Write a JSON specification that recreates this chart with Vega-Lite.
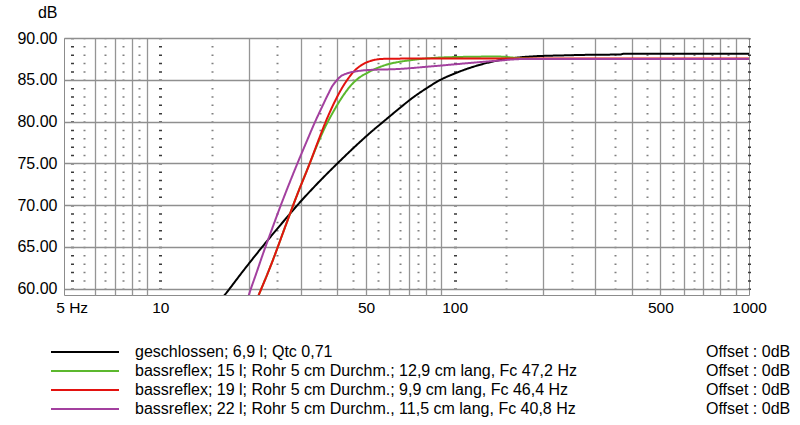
{
  "$schema": "https://vega.github.io/schema/vega-lite/v6.json",
  "autosize": "none",
  "padding": {"left": 64, "top": 38, "right": 51, "bottom": 130},
  "width": 685,
  "height": 257,
  "background": "white",
  "config": {
    "view": {"stroke": "#8c8c8c", "strokeWidth": 1},
    "font": "Liberation Sans",
    "axis": {"labelFont": "Liberation Sans", "titleFont": "Liberation Sans", "labelColor": "#000000", "titleColor": "#000000"},
    "legend": {"labelFont": "Liberation Sans", "labelColor": "#000000"}
  },
  "data": {
    "values": [
      {"s": "geschlossen; 6,9 l; Qtc 0,71", "f": 15, "db": 57.4},
      {"s": "geschlossen; 6,9 l; Qtc 0,71", "f": 16.6, "db": 59.3},
      {"s": "geschlossen; 6,9 l; Qtc 0,71", "f": 19, "db": 62.0},
      {"s": "geschlossen; 6,9 l; Qtc 0,71", "f": 22.2, "db": 65.0},
      {"s": "geschlossen; 6,9 l; Qtc 0,71", "f": 26.5, "db": 68.25},
      {"s": "geschlossen; 6,9 l; Qtc 0,71", "f": 29.4, "db": 70.1},
      {"s": "geschlossen; 6,9 l; Qtc 0,71", "f": 34, "db": 72.5},
      {"s": "geschlossen; 6,9 l; Qtc 0,71", "f": 40, "db": 75.0},
      {"s": "geschlossen; 6,9 l; Qtc 0,71", "f": 46, "db": 77.05},
      {"s": "geschlossen; 6,9 l; Qtc 0,71", "f": 52, "db": 78.75},
      {"s": "geschlossen; 6,9 l; Qtc 0,71", "f": 58, "db": 80.15},
      {"s": "geschlossen; 6,9 l; Qtc 0,71", "f": 65, "db": 81.6},
      {"s": "geschlossen; 6,9 l; Qtc 0,71", "f": 72, "db": 82.85},
      {"s": "geschlossen; 6,9 l; Qtc 0,71", "f": 80, "db": 83.95},
      {"s": "geschlossen; 6,9 l; Qtc 0,71", "f": 89, "db": 84.95},
      {"s": "geschlossen; 6,9 l; Qtc 0,71", "f": 100, "db": 85.75},
      {"s": "geschlossen; 6,9 l; Qtc 0,71", "f": 110, "db": 86.3},
      {"s": "geschlossen; 6,9 l; Qtc 0,71", "f": 125, "db": 86.9},
      {"s": "geschlossen; 6,9 l; Qtc 0,71", "f": 142, "db": 87.35},
      {"s": "geschlossen; 6,9 l; Qtc 0,71", "f": 160, "db": 87.62},
      {"s": "geschlossen; 6,9 l; Qtc 0,71", "f": 180, "db": 87.78},
      {"s": "geschlossen; 6,9 l; Qtc 0,71", "f": 240, "db": 87.93},
      {"s": "geschlossen; 6,9 l; Qtc 0,71", "f": 300, "db": 88.0},
      {"s": "geschlossen; 6,9 l; Qtc 0,71", "f": 365, "db": 88.02},
      {"s": "geschlossen; 6,9 l; Qtc 0,71", "f": 375, "db": 88.12},
      {"s": "geschlossen; 6,9 l; Qtc 0,71", "f": 1000, "db": 88.12},

      {"s": "bassreflex; 15 l; Rohr 5 cm Durchm.; 12,9 cm lang,  Fc 47,2 Hz", "f": 20, "db": 56.5},
      {"s": "bassreflex; 15 l; Rohr 5 cm Durchm.; 12,9 cm lang,  Fc 47,2 Hz", "f": 21.6, "db": 59.25},
      {"s": "bassreflex; 15 l; Rohr 5 cm Durchm.; 12,9 cm lang,  Fc 47,2 Hz", "f": 24, "db": 63.2},
      {"s": "bassreflex; 15 l; Rohr 5 cm Durchm.; 12,9 cm lang,  Fc 47,2 Hz", "f": 26.5, "db": 67.3},
      {"s": "bassreflex; 15 l; Rohr 5 cm Durchm.; 12,9 cm lang,  Fc 47,2 Hz", "f": 29, "db": 71.0},
      {"s": "bassreflex; 15 l; Rohr 5 cm Durchm.; 12,9 cm lang,  Fc 47,2 Hz", "f": 32.2, "db": 75.0},
      {"s": "bassreflex; 15 l; Rohr 5 cm Durchm.; 12,9 cm lang,  Fc 47,2 Hz", "f": 34.5, "db": 77.6},
      {"s": "bassreflex; 15 l; Rohr 5 cm Durchm.; 12,9 cm lang,  Fc 47,2 Hz", "f": 36.5, "db": 79.5},
      {"s": "bassreflex; 15 l; Rohr 5 cm Durchm.; 12,9 cm lang,  Fc 47,2 Hz", "f": 38.6, "db": 81.1},
      {"s": "bassreflex; 15 l; Rohr 5 cm Durchm.; 12,9 cm lang,  Fc 47,2 Hz", "f": 41, "db": 82.65},
      {"s": "bassreflex; 15 l; Rohr 5 cm Durchm.; 12,9 cm lang,  Fc 47,2 Hz", "f": 44, "db": 84.15},
      {"s": "bassreflex; 15 l; Rohr 5 cm Durchm.; 12,9 cm lang,  Fc 47,2 Hz", "f": 47, "db": 85.15},
      {"s": "bassreflex; 15 l; Rohr 5 cm Durchm.; 12,9 cm lang,  Fc 47,2 Hz", "f": 50, "db": 85.75},
      {"s": "bassreflex; 15 l; Rohr 5 cm Durchm.; 12,9 cm lang,  Fc 47,2 Hz", "f": 55, "db": 86.45},
      {"s": "bassreflex; 15 l; Rohr 5 cm Durchm.; 12,9 cm lang,  Fc 47,2 Hz", "f": 60, "db": 86.9},
      {"s": "bassreflex; 15 l; Rohr 5 cm Durchm.; 12,9 cm lang,  Fc 47,2 Hz", "f": 65, "db": 87.15},
      {"s": "bassreflex; 15 l; Rohr 5 cm Durchm.; 12,9 cm lang,  Fc 47,2 Hz", "f": 75, "db": 87.45},
      {"s": "bassreflex; 15 l; Rohr 5 cm Durchm.; 12,9 cm lang,  Fc 47,2 Hz", "f": 85, "db": 87.62},
      {"s": "bassreflex; 15 l; Rohr 5 cm Durchm.; 12,9 cm lang,  Fc 47,2 Hz", "f": 100, "db": 87.72},
      {"s": "bassreflex; 15 l; Rohr 5 cm Durchm.; 12,9 cm lang,  Fc 47,2 Hz", "f": 140, "db": 87.78},
      {"s": "bassreflex; 15 l; Rohr 5 cm Durchm.; 12,9 cm lang,  Fc 47,2 Hz", "f": 165, "db": 87.6},
      {"s": "bassreflex; 15 l; Rohr 5 cm Durchm.; 12,9 cm lang,  Fc 47,2 Hz", "f": 200, "db": 87.5},
      {"s": "bassreflex; 15 l; Rohr 5 cm Durchm.; 12,9 cm lang,  Fc 47,2 Hz", "f": 1000, "db": 87.5},

      {"s": "bassreflex; 19 l; Rohr 5 cm Durchm.; 9,9 cm lang,  Fc 46,4 Hz", "f": 20, "db": 56.5},
      {"s": "bassreflex; 19 l; Rohr 5 cm Durchm.; 9,9 cm lang,  Fc 46,4 Hz", "f": 21.6, "db": 59.25},
      {"s": "bassreflex; 19 l; Rohr 5 cm Durchm.; 9,9 cm lang,  Fc 46,4 Hz", "f": 24, "db": 63.2},
      {"s": "bassreflex; 19 l; Rohr 5 cm Durchm.; 9,9 cm lang,  Fc 46,4 Hz", "f": 26.5, "db": 67.3},
      {"s": "bassreflex; 19 l; Rohr 5 cm Durchm.; 9,9 cm lang,  Fc 46,4 Hz", "f": 29, "db": 71.0},
      {"s": "bassreflex; 19 l; Rohr 5 cm Durchm.; 9,9 cm lang,  Fc 46,4 Hz", "f": 32.2, "db": 75.0},
      {"s": "bassreflex; 19 l; Rohr 5 cm Durchm.; 9,9 cm lang,  Fc 46,4 Hz", "f": 34.5, "db": 77.8},
      {"s": "bassreflex; 19 l; Rohr 5 cm Durchm.; 9,9 cm lang,  Fc 46,4 Hz", "f": 36.7, "db": 80.2},
      {"s": "bassreflex; 19 l; Rohr 5 cm Durchm.; 9,9 cm lang,  Fc 46,4 Hz", "f": 38.8, "db": 82.1},
      {"s": "bassreflex; 19 l; Rohr 5 cm Durchm.; 9,9 cm lang,  Fc 46,4 Hz", "f": 40.8, "db": 83.6},
      {"s": "bassreflex; 19 l; Rohr 5 cm Durchm.; 9,9 cm lang,  Fc 46,4 Hz", "f": 43, "db": 84.9},
      {"s": "bassreflex; 19 l; Rohr 5 cm Durchm.; 9,9 cm lang,  Fc 46,4 Hz", "f": 45.2, "db": 85.9},
      {"s": "bassreflex; 19 l; Rohr 5 cm Durchm.; 9,9 cm lang,  Fc 46,4 Hz", "f": 48, "db": 86.7},
      {"s": "bassreflex; 19 l; Rohr 5 cm Durchm.; 9,9 cm lang,  Fc 46,4 Hz", "f": 50, "db": 87.05},
      {"s": "bassreflex; 19 l; Rohr 5 cm Durchm.; 9,9 cm lang,  Fc 46,4 Hz", "f": 53, "db": 87.35},
      {"s": "bassreflex; 19 l; Rohr 5 cm Durchm.; 9,9 cm lang,  Fc 46,4 Hz", "f": 57, "db": 87.5},
      {"s": "bassreflex; 19 l; Rohr 5 cm Durchm.; 9,9 cm lang,  Fc 46,4 Hz", "f": 80, "db": 87.55},
      {"s": "bassreflex; 19 l; Rohr 5 cm Durchm.; 9,9 cm lang,  Fc 46,4 Hz", "f": 1000, "db": 87.55},

      {"s": "bassreflex; 22 l; Rohr 5 cm Durchm., 11,5 cm lang,  Fc 40,8 Hz", "f": 19, "db": 56.5},
      {"s": "bassreflex; 22 l; Rohr 5 cm Durchm., 11,5 cm lang,  Fc 40,8 Hz", "f": 20, "db": 59.25},
      {"s": "bassreflex; 22 l; Rohr 5 cm Durchm., 11,5 cm lang,  Fc 40,8 Hz", "f": 21.2, "db": 61.85},
      {"s": "bassreflex; 22 l; Rohr 5 cm Durchm., 11,5 cm lang,  Fc 40,8 Hz", "f": 22.4, "db": 64.3},
      {"s": "bassreflex; 22 l; Rohr 5 cm Durchm., 11,5 cm lang,  Fc 40,8 Hz", "f": 24, "db": 67.2},
      {"s": "bassreflex; 22 l; Rohr 5 cm Durchm., 11,5 cm lang,  Fc 40,8 Hz", "f": 25.4, "db": 69.55},
      {"s": "bassreflex; 22 l; Rohr 5 cm Durchm., 11,5 cm lang,  Fc 40,8 Hz", "f": 27.3, "db": 72.4},
      {"s": "bassreflex; 22 l; Rohr 5 cm Durchm., 11,5 cm lang,  Fc 40,8 Hz", "f": 29.4, "db": 75.2},
      {"s": "bassreflex; 22 l; Rohr 5 cm Durchm., 11,5 cm lang,  Fc 40,8 Hz", "f": 31.5, "db": 77.7},
      {"s": "bassreflex; 22 l; Rohr 5 cm Durchm., 11,5 cm lang,  Fc 40,8 Hz", "f": 33.6, "db": 80.0},
      {"s": "bassreflex; 22 l; Rohr 5 cm Durchm., 11,5 cm lang,  Fc 40,8 Hz", "f": 35.5, "db": 81.8},
      {"s": "bassreflex; 22 l; Rohr 5 cm Durchm., 11,5 cm lang,  Fc 40,8 Hz", "f": 37.2, "db": 83.3},
      {"s": "bassreflex; 22 l; Rohr 5 cm Durchm., 11,5 cm lang,  Fc 40,8 Hz", "f": 38.5, "db": 84.3},
      {"s": "bassreflex; 22 l; Rohr 5 cm Durchm., 11,5 cm lang,  Fc 40,8 Hz", "f": 39.7, "db": 84.9},
      {"s": "bassreflex; 22 l; Rohr 5 cm Durchm., 11,5 cm lang,  Fc 40,8 Hz", "f": 41, "db": 85.4},
      {"s": "bassreflex; 22 l; Rohr 5 cm Durchm., 11,5 cm lang,  Fc 40,8 Hz", "f": 43, "db": 85.75},
      {"s": "bassreflex; 22 l; Rohr 5 cm Durchm., 11,5 cm lang,  Fc 40,8 Hz", "f": 46, "db": 86.0},
      {"s": "bassreflex; 22 l; Rohr 5 cm Durchm., 11,5 cm lang,  Fc 40,8 Hz", "f": 50, "db": 86.15},
      {"s": "bassreflex; 22 l; Rohr 5 cm Durchm., 11,5 cm lang,  Fc 40,8 Hz", "f": 65, "db": 86.3},
      {"s": "bassreflex; 22 l; Rohr 5 cm Durchm., 11,5 cm lang,  Fc 40,8 Hz", "f": 80, "db": 86.55},
      {"s": "bassreflex; 22 l; Rohr 5 cm Durchm., 11,5 cm lang,  Fc 40,8 Hz", "f": 100, "db": 86.85},
      {"s": "bassreflex; 22 l; Rohr 5 cm Durchm., 11,5 cm lang,  Fc 40,8 Hz", "f": 125, "db": 87.15},
      {"s": "bassreflex; 22 l; Rohr 5 cm Durchm., 11,5 cm lang,  Fc 40,8 Hz", "f": 142, "db": 87.3},
      {"s": "bassreflex; 22 l; Rohr 5 cm Durchm., 11,5 cm lang,  Fc 40,8 Hz", "f": 160, "db": 87.45},
      {"s": "bassreflex; 22 l; Rohr 5 cm Durchm., 11,5 cm lang,  Fc 40,8 Hz", "f": 180, "db": 87.5},
      {"s": "bassreflex; 22 l; Rohr 5 cm Durchm., 11,5 cm lang,  Fc 40,8 Hz", "f": 1000, "db": 87.5}
    ]
  },
  "encoding": {
    "y": {
      "field": "db", "type": "quantitative",
      "scale": {"domain": [59.25, 90], "nice": false, "zero": false},
      "axis": {
        "values": [60, 65, 70, 75, 80, 85, 90],
        "format": ".2f",
        "title": "dB",
        "titleAngle": 0, "titleX": -7, "titleY": -26, "titleAlign": "right", "titleBaseline": "middle",
        "titleFontSize": 16, "titleFontWeight": "normal",
        "labelFontSize": 16, "labelPadding": 7,
        "ticks": false, "domain": false,
        "gridColor": "#8f8f8f", "gridWidth": 1.3
      }
    },
    "color": {
      "field": "s", "type": "nominal",
      "scale": {
        "domain": [
          "geschlossen; 6,9 l; Qtc 0,71",
          "bassreflex; 15 l; Rohr 5 cm Durchm.; 12,9 cm lang,  Fc 47,2 Hz",
          "bassreflex; 19 l; Rohr 5 cm Durchm.; 9,9 cm lang,  Fc 46,4 Hz",
          "bassreflex; 22 l; Rohr 5 cm Durchm., 11,5 cm lang,  Fc 40,8 Hz"
        ],
        "range": ["#000000", "#5cb82e", "#e3120f", "#a3409f"]
      },
      "legend": {
        "orient": "none", "legendX": -14, "legendY": 306,
        "title": null, "padding": 0,
        "symbolType": "stroke", "symbolSize": 4624, "symbolStrokeWidth": 2,
        "labelFontSize": 16, "labelOffset": 15, "labelLimit": 600,
        "clipHeight": 16, "rowPadding": 3
      }
    },
    "strokeDash": {
      "field": "s", "type": "nominal",
      "scale": {"range": [[1, 0], [1, 0], [1, 0], [1, 0]]},
      "legend": {
        "orient": "none", "legendX": 626, "legendY": 306,
        "title": null, "padding": 0,
        "symbolSize": 1, "symbolOpacity": 0,
        "labelExpr": "'Offset : 0dB'",
        "labelFontSize": 16, "labelOffset": 0,
        "clipHeight": 16, "rowPadding": 3
      }
    }
  },
  "resolve": {"axis": {"x": "independent"}},
  "layer": [
    {
      "transform": [{"filter": "datum.s == 'geschlossen; 6,9 l; Qtc 0,71' || indexof(datum.s, '15 l') >= 0"}],
      "mark": {"type": "line", "strokeWidth": 2, "clip": true, "interpolate": "monotone"},
      "encoding": {
        "x": {
          "field": "f", "type": "quantitative",
          "scale": {"type": "log", "domain": [4.71, 1000], "nice": false},
          "axis": {
            "orient": "bottom", "title": null,
            "values": [5, 5.5, 6, 6.5, 7, 7.5, 8, 8.5, 9, 10, 15, 20, 25, 30, 35, 40, 45, 50, 55, 60, 65, 70, 75, 80, 85, 90, 100, 150, 200, 250, 300, 350, 400, 450, 500, 550, 600, 650, 700, 750, 800, 850, 900, 1000],
            "labelExpr": "datum.value == 5 ? '5 Hz' : (indexof([10, 50, 100, 500, 1000], datum.value) >= 0 ? format(datum.value, 'd') : '')",
            "labelFontSize": 15.5, "labelPadding": 5, "labelOverlap": false, "labelFlush": false,
            "ticks": false, "domain": false,
            "gridColor": {"condition": [
              {"test": "indexof([5, 10, 100, 1000], datum.value) >= 0", "value": "#3a3a3a"},
              {"test": "indexof([6, 7, 8, 9, 20, 30, 40, 50, 60, 70, 80, 90, 200, 300, 400, 500, 600, 700, 800, 900], datum.value) >= 0", "value": "#959595"}
            ], "value": "#808080"},
            "gridWidth": {"condition": [
              {"test": "indexof([5, 10, 100, 1000], datum.value) >= 0", "value": 3},
              {"test": "indexof([6, 7, 8, 9, 20, 30, 40, 50, 60, 70, 80, 90, 200, 300, 400, 500, 600, 700, 800, 900], datum.value) >= 0", "value": 1.3}
            ], "value": 2},
            "gridDash": {"condition": {"test": "indexof([6, 7, 8, 9, 20, 30, 40, 50, 60, 70, 80, 90, 200, 300, 400, 500, 600, 700, 800, 900], datum.value) >= 0", "value": []}, "value": [1.5, 6.858]},
            "gridDashOffset": 0.75
          }
        }
      }
    },
    {
      "transform": [{"filter": "indexof(datum.s, '19 l') >= 0 || indexof(datum.s, '22 l') >= 0"}],
      "mark": {"type": "line", "strokeWidth": 2, "clip": true, "interpolate": "monotone"},
      "encoding": {
        "x": {
          "field": "f", "type": "quantitative",
          "scale": {"type": "log", "domain": [4.71, 1000], "nice": false},
          "axis": {
            "orient": "bottom", "title": null,
            "values": [5, 10, 100, 1000],
            "labels": false, "ticks": false, "domain": false,
            "gridColor": "#555555", "gridWidth": 1
          }
        }
      }
    }
  ]
}
